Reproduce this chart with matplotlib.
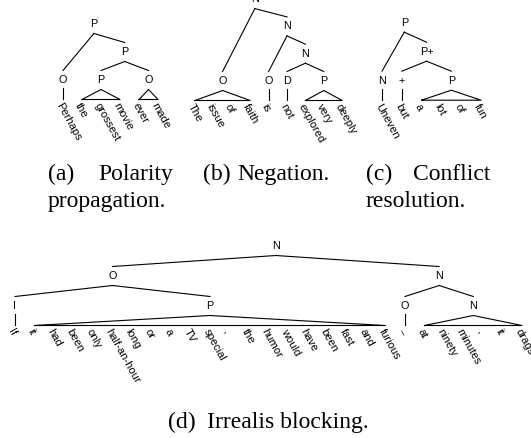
import matplotlib
matplotlib.use("Agg")
import matplotlib.pyplot as plt
import numpy as np

# bracketed parse trees, one per panel
tree_a = "(P (O Perhaps) (P (P the grossest movie) (O ever made)))"
tree_b = "(N (O The issue of faith) (N (O is) (N (D not) (P explored very deeply))))"
tree_c = "(P (N Uneven) (P+ (+ but) (P a lot of fun)))"
tree_d = ("(N (O (I If) (P it had been only half-an-hour long or a TV special , "
          "the humor would have been fast and furious)) (N (O --) (N at ninety minutes , it drags)))")

captions_top = [("(a)", "Polarity", "propagation."), ("(b)", "Negation.", ""), ("(c)", "Conflict", "resolution.")]
caption_d = ("(d)", "Irrealis blocking.")

SANS = "Liberation Sans"
SERIF = "Liberation Serif"

fig = plt.figure(figsize=(5.31, 4.38), dpi=100)
ax = fig.add_axes([0, 0, 1, 1])
ax.set_xlim(0, 531)
ax.set_ylim(438, 0)
ax.axis("off")


def parse(s):
    toks = s.replace("(", " ( ").replace(")", " ) ").split()
    pos = 0

    def node():
        nonlocal pos
        pos += 1
        label = toks[pos]
        pos += 1
        kids = []
        while toks[pos] != ")":
            if toks[pos] == "(":
                kids.append(node())
            else:
                kids.append(toks[pos])
                pos += 1
        pos += 1
        return (label, kids)
    return node()


def is_pre(t):
    return all(isinstance(k, str) for k in t[1])


def height(t, d=0):
    if is_pre(t):
        return d
    return max(height(k, d + 1) for k in t[1])


def draw_tree(s, x0, dx, pre_y, dy, lw=0.8):
    tree = parse(s)
    H = height(tree)
    count = [0]

    def walk(t, depth):
        label, kids = t
        if is_pre(t):
            xs = []
            for w in kids:
                x = x0 + count[0] * dx
                count[0] += 1
                xs.append(x)
                ax.text(x, pre_y + 21.5, w, rotation=-61, rotation_mode="anchor",
                        ha="left", va="top", fontsize=8, family=SANS)
            x = np.mean(xs)
            y = pre_y
            if len(xs) == 1:
                ax.plot([x, x], [y + 8, y + 19], color="black", lw=lw)
            else:
                ax.plot([xs[0], x, xs[-1], xs[0]], [y + 19.5, y + 9.5, y + 19.5, y + 19.5],
                        color="black", lw=lw)
        else:
            y = pre_y - (H - depth) * dy
            kid_pos = [walk(k, depth + 1) for k in kids]
            x = np.mean([p[0] for p in kid_pos])
            for cx, cy in kid_pos:
                ax.plot([x, cx], [y + 9.5, cy - 9.5], color="black", lw=lw)
        ax.text(x, y, label, ha="center", va="center", fontsize=7.8, family=SANS)
        return x, y

    walk(tree, 0)


draw_tree(tree_a, 63, 19, 80, 28)
draw_tree(tree_b, 195, 18.4, 81, 27.3)
draw_tree(tree_c, 382, 19.8, 80.7, 29)
draw_tree(tree_d, 15, 19.5, 306, 30)

# captions
cap_kw = dict(fontsize=17, family=SERIF, va="baseline")
lefts = [48, 203, 366]
rights = [173, 330, 490]
for (tag, word, line2), l, r in zip(captions_top, lefts, rights):
    ax.text(l, 180, tag, ha="left", **cap_kw)
    if line2:
        ax.text(r, 180, word, ha="right", **cap_kw)
        ax.text(l, 207, line2, ha="left", **cap_kw)
    else:
        ax.text(l + 34, 180, word, ha="left", **cap_kw)

ax.text(168, 428, caption_d[0], ha="left", **cap_kw)
ax.text(207, 428, caption_d[1], ha="left", **cap_kw)

fig.savefig("out.png", dpi=100)
